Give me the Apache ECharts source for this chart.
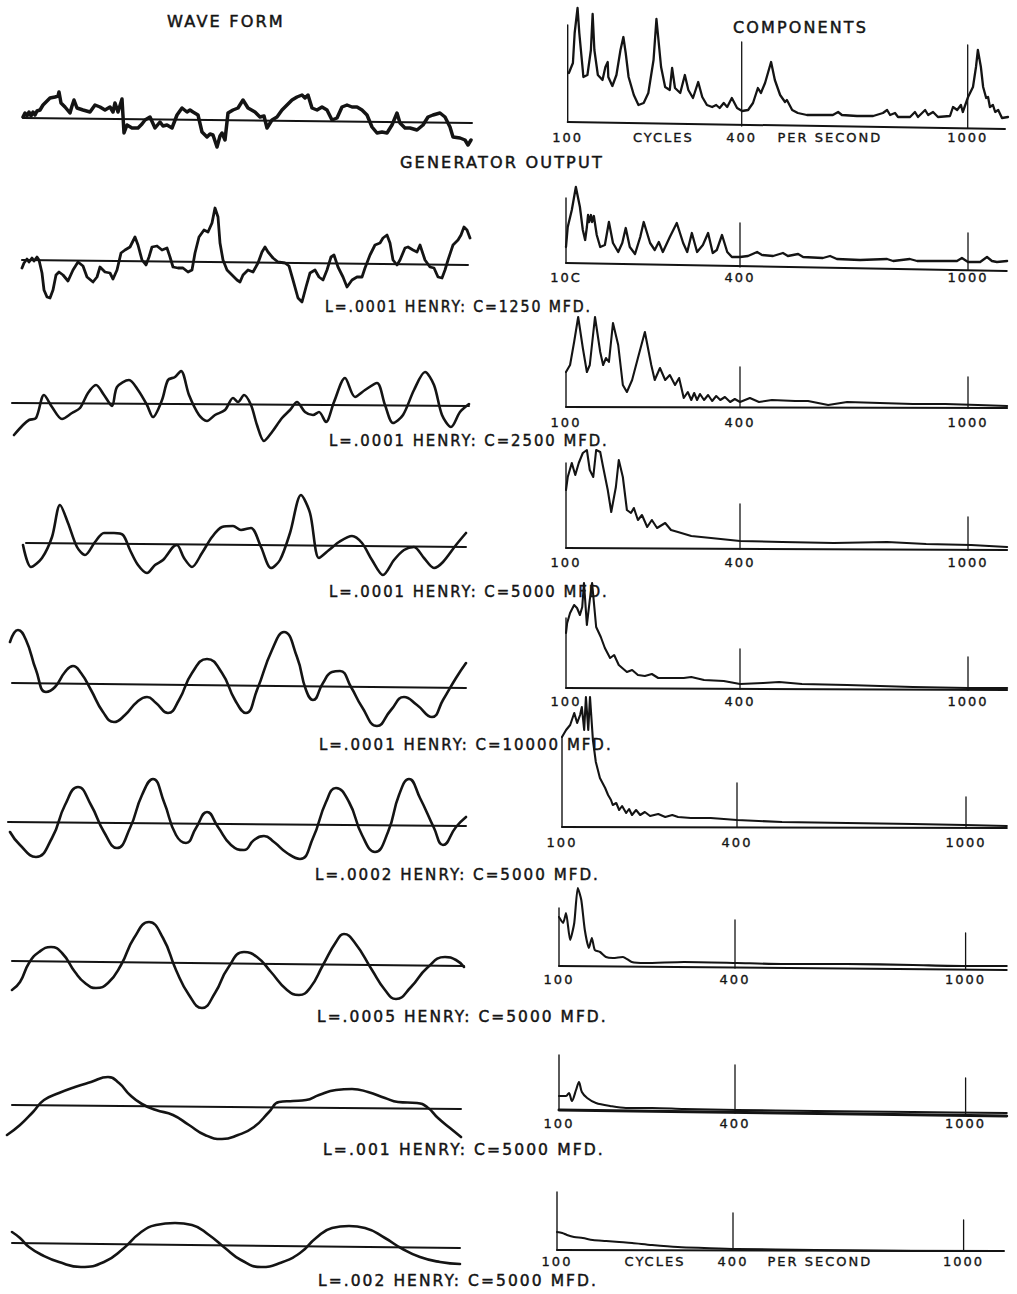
<!DOCTYPE html>
<html>
<head>
<meta charset="utf-8">
<script src="https://cdn.jsdelivr.net/npm/echarts@6/dist/echarts.min.js"></script>
<style>
html,body{margin:0;padding:0;background:#ffffff;}
#chart{width:1017px;height:1294px;}
#chart text{letter-spacing:2px;}
</style>
</head>
<body>
<div id="chart"></div>
<script>
// ---------------- DATA ----------------
const titles = ['WAVE FORM', 'COMPONENTS', 'GENERATOR OUTPUT'];
const captions = [
  'L=.0001 HENRY: C=1250 MFD.',
  'L=.0001 HENRY: C=2500 MFD.',
  'L=.0001 HENRY: C=5000 MFD.',
  'L=.0001 HENRY: C=10000 MFD.',
  'L=.0002 HENRY: C=5000 MFD.',
  'L=.0005 HENRY: C=5000 MFD.',
  'L=.001 HENRY: C=5000 MFD.',
  'L=.002 HENRY: C=5000 MFD.'
];
// frequency axis labels [Hz, text]
const freqLabelsFull = [[100,'100'],[265,'CYCLES'],[400,'400'],[634,'PER SECOND'],[1000,'1000']];
const freqLabelsShort = [[100,'100'],[400,'400'],[1000,'1000']];
const freqLabelsRow2 = [[100,'10C'],[400,'400'],[1000,'1000']];
const freqLabelsLast = [[100,'100'],[267,'CYCLES'],[400,'400'],[626,'PER SECOND'],[1000,'1000']];

// wave forms: [time, amplitude]
const wave1 = [[18,1],[20,5],[22,2],[24,6],[26,2],[28,6],[30,3],[32,7],[35,8],[38,13],[40,15],[43,18],[45,20],[50,21],[53,22],[54,26],[56,15],[60,11],[65,5],[67,12],[69,18],[72,10],[78,8],[85,6],[90,13],[95,11],[100,8],[105,11],[108,6],[110,15],[113,6],[117,19],[119,-15],[122,-7],[127,-10],[133,-10],[137,-6],[140,-2],[145,1],[150,-10],[155,-4],[158,-8],[162,-7],[167,-10],[172,3],[177,10],[182,6],[185,8],[188,6],[193,3],[197,-14],[202,-19],[205,-16],[208,-17],[212,-29],[215,-18],[217,-15],[220,-22],[223,5],[228,8],[233,10],[238,18],[243,10],[250,6],[255,1],[259,2],[262,-10],[267,-2],[272,1],[277,8],[282,13],[287,18],[292,21],[297,23],[300,20],[303,23],[307,10],[312,8],[317,11],[322,8],[327,-2],[332,0],[337,11],[342,13],[347,11],[352,11],[357,8],[362,3],[367,-9],[372,-15],[377,-14],[382,-15],[387,-7],[392,5],[395,-5],[400,-10],[405,-10],[412,-12],[418,-7],[423,1],[428,3],[435,5],[440,1],[445,-9],[448,-19],[455,-20],[460,-22],[463,-27],[466,-22]];
const wave2 = [[17,-8],[19,-3],[22,1],[24,-2],[27,2],[29,-1],[32,3],[34,0],[37,-13],[39,-30],[42,-37],[45,-38],[48,-30],[51,-15],[54,-12],[58,-15],[63,-21],[68,-10],[73,-2],[78,-6],[82,-17],[88,-22],[92,-17],[95,-7],[100,-12],[105,-13],[108,-19],[112,-10],[116,7],[120,10],[125,13],[130,23],[133,15],[137,0],[141,-5],[144,3],[147,13],[152,14],[157,10],[162,12],[165,3],[168,-7],[173,-8],[178,-8],[183,-12],[187,-10],[190,7],[194,23],[199,30],[203,28],[207,37],[210,52],[213,43],[215,17],[218,0],[222,-10],[227,-15],[232,-20],[235,-22],[238,-15],[243,-10],[248,-12],[253,-3],[257,8],[260,13],[263,8],[268,2],[273,-2],[280,-3],[284,-6],[288,-20],[293,-38],[297,-42],[301,-27],[305,-13],[310,-10],[314,-17],[318,-20],[322,-10],[326,3],[329,5],[333,-7],[338,-17],[342,-27],[347,-20],[352,-17],[357,-17],[360,-8],[365,5],[370,15],[375,17],[378,22],[382,25],[385,17],[388,0],[392,-5],[395,0],[400,12],[403,13],[408,10],[412,8],[415,15],[420,0],[425,-7],[429,-8],[433,-17],[437,-18],[440,-10],[443,0],[448,15],[453,20],[456,25],[459,33],[462,30],[465,22]];
const wave3 = [[9,-32],[18,-22],[24,-17],[31,-15],[39,8],[47,-4],[57,-16],[67,-10],[75,-5],[83,10],[91,18],[99,8],[107,-3],[112,16],[124,23],[133,13],[142,-2],[148,-14],[157,3],[163,23],[170,26],[176,32],[184,8],[194,-12],[202,-18],[210,-12],[220,-7],[228,5],[233,1],[239,8],[246,-2],[252,-22],[259,-38],[267,-29],[277,-15],[285,-7],[292,1],[300,-9],[308,-12],[314,-9],[321,-19],[329,1],[340,25],[350,6],[360,13],[372,20],[380,-2],[388,-20],[398,-12],[409,13],[420,31],[429,18],[437,-12],[446,-24],[455,-9],[464,-1]];
const wave4 = [[18,-2],[26,-24],[37,-15],[47,6],[55,38],[63,20],[72,-4],[80,-12],[90,1],[99,10],[109,10],[118,8],[125,-7],[133,-22],[142,-30],[150,-22],[158,-17],[168,-4],[172,-2],[179,-15],[187,-24],[197,-10],[207,6],[217,16],[228,17],[236,13],[246,15],[256,-4],[266,-25],[275,-17],[285,10],[296,48],[305,30],[314,-15],[324,-7],[334,1],[347,7],[357,0],[367,-17],[378,-32],[389,-17],[399,-7],[409,-4],[419,-15],[429,-25],[438,-19],[451,-2],[461,10]];
const wave5 = [[5,41],[13,53],[21,43],[31,13],[41,-9],[50,-4],[60,11],[68,17],[76,10],[86,-7],[98,-29],[109,-39],[120,-32],[132,-19],[142,-14],[151,-20],[163,-30],[174,-17],[187,10],[202,24],[217,10],[230,-17],[241,-30],[252,-7],[267,33],[279,51],[292,26],[301,-7],[308,-17],[318,0],[327,11],[335,12],[346,-4],[357,-24],[372,-43],[386,-27],[399,-14],[412,-22],[427,-34],[438,-17],[451,5],[461,20]];
const wave6 = [[5,-10],[15,-23],[31,-35],[47,-16],[60,17],[73,35],[86,17],[99,-10],[112,-26],[125,-6],[137,27],[148,43],[159,20],[171,-13],[181,-21],[191,-6],[202,10],[213,-5],[226,-23],[239,-28],[249,-18],[259,-14],[269,-20],[282,-31],[295,-37],[308,-16],[321,20],[331,34],[344,20],[357,-13],[370,-30],[383,-10],[394,27],[404,43],[415,24],[429,-6],[438,-23],[451,-5],[461,5]];
const wave7 = [[7,-29],[15,-21],[24,-2],[34,9],[46,14],[57,8],[70,-11],[80,-22],[91,-27],[103,-22],[116,-4],[129,23],[144,39],[158,23],[171,-9],[184,-34],[197,-47],[210,-32],[223,-7],[239,9],[252,4],[266,-11],[282,-29],[294,-34],[305,-27],[318,-4],[331,19],[339,27],[350,18],[367,-9],[380,-29],[391,-38],[406,-26],[422,-7],[440,4],[451,1],[459,-6]];
const wave8 = [[2,-30],[15,-20],[28,-7],[39,5],[54,12],[70,18],[86,23],[103,28],[114,22],[125,10],[137,1],[151,-5],[168,-10],[184,-20],[200,-30],[217,-34],[233,-30],[249,-22],[264,-7],[274,3],[288,4],[301,5],[314,10],[331,15],[347,16],[363,13],[380,7],[393,3],[412,2],[422,-2],[433,-13],[445,-23],[456,-32]];
const wave9 = [[7,11],[15,5],[24,-4],[37,-12],[54,-19],[76,-24],[99,-19],[119,-5],[135,10],[151,18],[170,20],[187,18],[204,8],[220,-5],[236,-17],[256,-24],[275,-20],[295,-10],[311,5],[327,15],[344,17],[360,15],[380,5],[396,-5],[415,-14],[435,-19],[455,-21]];
// wave reference lines: [start time, end time, end level]
const waveBase = [[18,467,-5],[17,463,-5],[7,464,-3],[21,461,-4],[7,461,-5],[3,461,-4],[7,459,-5],[7,456,-4],[7,455,-5]];

// components: [frequency Hz, amplitude]
const spec1 = [[102,49],[109,59],[112,89],[117,114],[120,89],[126,52],[127,45],[134,47],[140,72],[143,108],[146,72],[152,47],[160,42],[165,55],[169,60],[170,45],[177,36],[184,47],[191,72],[196,85],[200,69],[205,45],[214,27],[222,17],[231,19],[239,29],[248,62],[253,103],[256,85],[261,55],[268,35],[276,32],[280,54],[285,34],[294,29],[302,47],[308,32],[316,24],[325,40],[332,25],[340,17],[349,15],[356,17],[362,14],[369,19],[375,15],[383,24],[392,14],[401,11],[417,12],[430,19],[443,34],[451,29],[462,39],[478,60],[488,42],[502,27],[515,20],[520,22],[534,12],[549,9],[573,7],[616,7],[642,7],[656,10],[666,7],[706,6],[749,6],[775,9],[786,12],[794,7],[807,9],[815,5],[847,5],[860,10],[868,5],[887,12],[895,7],[908,10],[921,5],[953,6],[961,15],[972,12],[982,17],[987,10],[1001,25],[1014,35],[1022,55],[1027,72],[1035,55],[1041,35],[1049,24],[1054,25],[1059,15],[1067,17],[1073,10],[1081,12],[1091,4],[1107,5]];
const spec2 = [[100,16],[103,36],[110,53],[117,76],[124,56],[129,33],[133,23],[136,36],[138,48],[140,41],[143,48],[145,41],[148,47],[153,28],[159,16],[167,18],[174,41],[181,20],[190,11],[197,20],[203,35],[210,16],[219,9],[228,26],[234,41],[245,20],[253,13],[260,21],[267,11],[279,26],[291,40],[302,20],[309,11],[317,30],[326,11],[336,18],[345,30],[353,10],[360,13],[369,28],[378,11],[386,6],[400,6],[421,7],[445,11],[458,8],[487,7],[513,10],[526,7],[553,9],[566,6],[618,5],[637,7],[655,4],[716,3],[787,4],[803,2],[847,4],[866,2],[971,2],[984,5],[1000,1],[1032,1],[1050,6],[1063,2],[1076,1],[1103,2]];
const spec3 = [[100,35],[107,42],[114,65],[121,90],[129,59],[136,35],[141,42],[150,90],[159,55],[164,42],[169,49],[174,45],[181,84],[190,62],[198,22],[205,15],[214,27],[224,49],[236,75],[247,42],[253,27],[262,39],[271,27],[279,32],[288,22],[295,29],[303,9],[310,15],[316,7],[321,14],[326,7],[331,13],[338,7],[345,12],[352,6],[359,11],[366,7],[374,10],[383,5],[391,8],[400,5],[426,9],[450,5],[484,7],[545,6],[579,6],[632,2],[682,5],[768,4],[855,3],[940,3],[1026,2],[1103,1]];
const spec4 = [[100,58],[103,71],[110,85],[116,73],[122,85],[129,95],[136,98],[141,78],[147,71],[152,98],[159,96],[164,81],[172,58],[178,36],[186,61],[191,88],[198,71],[205,38],[212,35],[217,40],[224,28],[231,33],[240,21],[248,28],[257,20],[271,25],[281,18],[293,16],[316,12],[350,10],[400,7],[511,6],[647,5],[787,6],[890,4],[1008,3],[1103,1]];
const spec5 = [[100,55],[102,65],[107,75],[114,83],[119,80],[124,73],[128,81],[131,105],[136,63],[141,88],[145,105],[152,61],[160,51],[167,40],[176,30],[183,33],[191,23],[205,16],[214,18],[224,13],[236,12],[248,14],[259,10],[281,10],[303,10],[316,11],[338,8],[372,7],[400,4],[461,5],[503,6],[563,4],[682,3],[855,1],[1000,0],[1103,0]];
const spec6 = [[100,90],[107,97],[114,102],[121,114],[126,104],[131,112],[134,120],[138,97],[141,130],[145,97],[148,130],[153,87],[158,65],[165,49],[174,39],[179,32],[184,27],[187,22],[193,24],[198,17],[203,21],[210,14],[215,18],[220,12],[227,17],[234,12],[242,15],[251,11],[265,13],[277,10],[289,12],[299,10],[321,9],[355,9],[400,7],[518,5],[688,4],[861,3],[997,2],[1107,1]];
const spec7 = [[100,49],[107,43],[112,53],[119,26],[126,43],[132,78],[138,66],[144,36],[151,18],[156,28],[161,16],[170,14],[180,9],[192,8],[209,9],[224,4],[247,3],[313,4],[405,3],[522,2],[691,2],[863,1],[998,0],[1107,0]];
const spec8 = [[100,14],[112,14],[117,17],[122,9],[129,20],[134,28],[139,18],[148,12],[163,7],[187,4],[214,2],[259,2],[313,1],[405,0],[608,-1],[863,-2],[1107,-3]];
const spec9 = [[100,18],[109,17],[117,15],[129,13],[144,12],[161,10],[184,9],[206,8],[228,7],[262,5],[306,3],[351,2],[410,1],[613,0],[868,-1],[1105,-1]];
// component chart frame: left line height, 400 and 1000 marks [low, high], baseline [end Hz, end level]
const specLeftTop = [97, 65, 35, 85, 70, 90, 58, 55, 58];
const spec400 = [[-4,80],[-4,40],[0,40],[-1,44],[-1,39],[0,44],[-2,46],[-3,45],[0,37]];
const spec1000 = [[-6,77],[-7,30],[-1,30],[-2,31],[-2,31],[-1,30],[-3,33],[-5,32],[-1,30]];
const specBase = [[1099,-7],[1102,-8],[1103,-1],[1103,-2],[1103,-2],[1107,-1],[1107,-4],[1107,-6],[1097,-1]];

// ---------------- LAYOUT ----------------
const waves = [wave1, wave2, wave3, wave4, wave5, wave6, wave7, wave8, wave9];
const specs = [spec1, spec2, spec3, spec4, spec5, spec6, spec7, spec8, spec9];
const specLabels = [freqLabelsFull, freqLabelsRow2, freqLabelsShort, freqLabelsShort, freqLabelsShort, freqLabelsShort, freqLabelsShort, freqLabelsShort, freqLabelsLast];
const waveZero = [118, 260, 403, 543, 683, 822, 961, 1105, 1243];
const specZero = [122, 263, 407, 548, 688, 827, 966, 1110, 1250];
const specPx100 = [567.7, 566, 566, 566, 566, 562, 559, 559, 557];
const specPx400 = [741.7, 740, 740, 740, 740, 737, 735, 735, 733];
const specPx1000 = [967.7, 968, 968, 968, 968, 966, 965.6, 965.6, 963.6];
const labelOffset = [15, 14, 15, 14, 13, 15, 13, 13, 11];
const waveWidth = [3.5, 2.8, 2.6, 2.6, 2.6, 2.6, 2.6, 2.6, 2.6];
const waveSmooth = [false, false, 0.3, 0.3, 0.5, 0.5, 0.5, 0.5, 0.5];
const specSmooth = [false, false, false, false, false, false, 0.2, 0.3, 0.3];
const titleBox = [[167, 285, 22], [733, 868, 28], [400, 604, 163]];
const captionBox = [[325,592,306],[329,609,441],[329,609,592],[319,613,745],[315,600,875],[317,608,1017],[323,605,1150],[318,598,1281]];

const INK = '#141414';
const FONT = 'DejaVu Sans';
const LS = 2; // letter spacing (css)
const F_MAX = 1110;

function sPos(f, R) { return f <= 400 ? (f - 100) / 300 : 1 + (f - 400) / 600 * R; }

const grids = [], xAxes = [], yAxes = [], series = [];
function lineSeries(idx, data, width, smooth) {
  return {
    type: 'line', xAxisIndex: idx, yAxisIndex: idx, data: data,
    symbol: 'none', showSymbol: false, smooth: smooth || false,
    clip: false, silent: true, animation: false,
    lineStyle: { color: INK, width: width, join: 'round', cap: 'round' }
  };
}

for (let i = 0; i < 9; i++) {
  // wave form panel
  let gi = grids.length;
  grids.push({ left: 5, width: 470, top: waveZero[i] - 70, height: 140, containLabel: false, outerBoundsMode: 'none' });
  xAxes.push({ type: 'value', gridIndex: gi, min: 0, max: 470, show: false });
  yAxes.push({ type: 'value', gridIndex: gi, min: -70, max: 70, show: false });
  const b = waveBase[i];
  series.push(lineSeries(gi, [[b[0], 0], [b[1], b[2]]], 2, false));
  series.push(lineSeries(gi, waves[i], waveWidth[i], waveSmooth[i]));

  // components panel: grid bottom = zero level of the amplitude axis
  gi = grids.length;
  const u = specPx400[i] - specPx100[i];
  const R = (specPx1000[i] - specPx400[i]) / u;
  const sMax = sPos(F_MAX, R);
  grids.push({ left: specPx100[i], width: u * sMax, top: specZero[i] - 140, height: 140, containLabel: false, outerBoundsMode: 'none' });
  const labs = specLabels[i];
  xAxes.push({
    type: 'value', gridIndex: gi, min: 0, max: sMax, position: 'bottom',
    axisLine: { show: false, onZero: false },
    axisTick: { show: false },
    splitLine: { show: false },
    axisLabel: {
      show: true,
      customValues: labs.map(l => sPos(l[0], R)),
      showMinLabel: true, showMaxLabel: true,
      margin: labelOffset[i] - 6.5,
      color: INK, fontSize: 13, fontFamily: FONT,
      textBorderColor: INK, textBorderWidth: 0.35,
      formatter: function (v) {
        let best = labs[0];
        for (const l of labs) if (Math.abs(sPos(l[0], R) - v) < Math.abs(sPos(best[0], R) - v)) best = l;
        return best[1];
      }
    }
  });
  yAxes.push({ type: 'value', gridIndex: gi, min: 0, max: 140, show: false });
  const sb = specBase[i];
  series.push(lineSeries(gi, [[0, 0], [sPos(sb[0], R), sb[1]]], i === 7 ? 3 : 2, false));
  series.push(lineSeries(gi, [[0, 0], [0, specLeftTop[i]]], 1.4, false));
  series.push(lineSeries(gi, [[1, spec400[i][0]], [1, spec400[i][1]]], 1.3, false));
  const s1000 = sPos(1000, R);
  series.push(lineSeries(gi, [[s1000, spec1000[i][0]], [s1000, spec1000[i][1]]], 1.3, false));
  series.push(lineSeries(gi, specs[i].map(p => [sPos(p[0], R), p[1]]), i < 2 ? 2.3 : 2.1, specSmooth[i]));
}

// text widths (to match the lettered originals)
const mctx = document.createElement('canvas').getContext('2d');
function textEl(text, box, size) {
  mctx.font = size + 'px "' + FONT + '"';
  const natural = mctx.measureText(text).width + LS * text.length;
  const target = box[1] - box[0];
  return {
    type: 'text', x: box[0], y: box[2], scaleX: target / natural, silent: true,
    style: { text: text, fontSize: size, fontFamily: FONT, fill: INK,
      stroke: INK, lineWidth: 0.45,
      align: 'left', verticalAlign: 'middle', textAlign: 'left', textVerticalAlign: 'middle' }
  };
}
const graphics = [];
titles.forEach((t, k) => graphics.push(textEl(t, titleBox[k], 15)));
captions.forEach((t, k) => graphics.push(textEl(t, captionBox[k], 15)));

const chart = echarts.init(document.getElementById('chart'), null, { renderer: 'svg', width: 1017, height: 1294 });
chart.setOption({
  backgroundColor: '#ffffff',
  animation: false,
  grid: grids,
  xAxis: xAxes,
  yAxis: yAxes,
  series: series,
  graphic: { elements: graphics }
});
</script>
</body>
</html>
